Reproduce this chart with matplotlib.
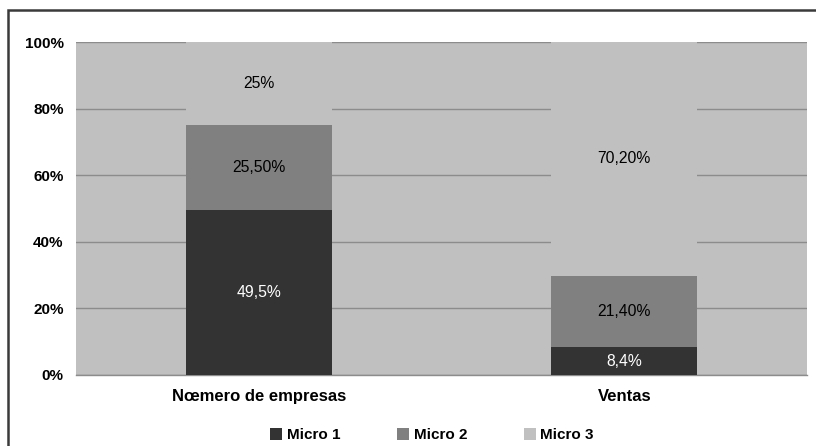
import matplotlib
matplotlib.use("Agg")
import matplotlib.pyplot as plt
from matplotlib.patches import Rectangle

plt.rcParams['font.family'] = ['Liberation Sans', 'DejaVu Sans']

categories = ["Nœmero de empresas", "Ventas"]
series_names = ["Micro 1", "Micro 2", "Micro 3"]
micro1 = [49.5, 8.4]
micro2 = [25.5, 21.4]
micro3 = [25.0, 70.2]
labels1 = ["49,5%", "8,4%"]
labels2 = ["25,50%", "21,40%"]
labels3 = ["25%", "70,20%"]
yticks = [0, 20, 40, 60, 80, 100]
ytick_labels = ["0%", "20%", "40%", "60%", "80%", "100%"]

colors = ["#333333", "#808080", "#c0c0c0"]
label_colors = ["white", "black", "black"]

W, H = 816, 446
fig = plt.figure(figsize=(W / 100, H / 100), dpi=100)
ax = fig.add_axes([76 / W, 1 - 375 / H, (807 - 76) / W, (375 - 42) / H])
ax.set_facecolor("#c0c0c0")

x = list(range(len(categories)))
width = 0.4
bottoms = [0.0] * len(categories)
for vals, labs, col, lcol, name in zip([micro1, micro2, micro3],
                                       [labels1, labels2, labels3],
                                       colors, label_colors, series_names):
    ax.bar(x, vals, width, bottom=bottoms, color=col, label=name,
           zorder=3, linewidth=0)
    for xi, v, b, t in zip(x, vals, bottoms, labs):
        ax.text(xi, b + v / 2, t, ha="center", va="center", fontsize=11.3,
                color=lcol, zorder=4)
    bottoms = [b + v for b, v in zip(bottoms, vals)]

ax.set_xlim(-0.5, len(categories) - 0.5)
ax.set_ylim(0, 100)
ax.set_yticks(yticks)
ax.set_yticklabels(ytick_labels, fontsize=11, fontweight="bold")
ax.set_xticks(x)
ax.set_xticklabels(categories, fontsize=12, fontweight="bold")
ax.tick_params(axis="x", length=0, pad=10)
ax.tick_params(axis="y", length=0, pad=9)
ax.yaxis.grid(True, color="#8c8c8c", linewidth=1.0, zorder=1)
ax.set_axisbelow(True)
for s in ["left", "right", "top"]:
    ax.spines[s].set_visible(False)
ax.spines["bottom"].set_color("#8c8c8c")
ax.spines["bottom"].set_linewidth(1.0)

fig.legend(loc="center", bbox_to_anchor=(432 / W, 1 - 435 / H), ncol=3,
           frameon=False, handlelength=0.8, handleheight=0.8,
           handletextpad=0.3, columnspacing=3.7,
           prop={"size": 11, "weight": "bold"})

# outer chart border
fig.patches.append(Rectangle((8 / W, -0.05), 1.0, 1 - 10 / H + 0.05,
                             transform=fig.transFigure, fill=False,
                             edgecolor="#3a3a3a", linewidth=1.8))

fig.savefig("out.png", dpi=100)
